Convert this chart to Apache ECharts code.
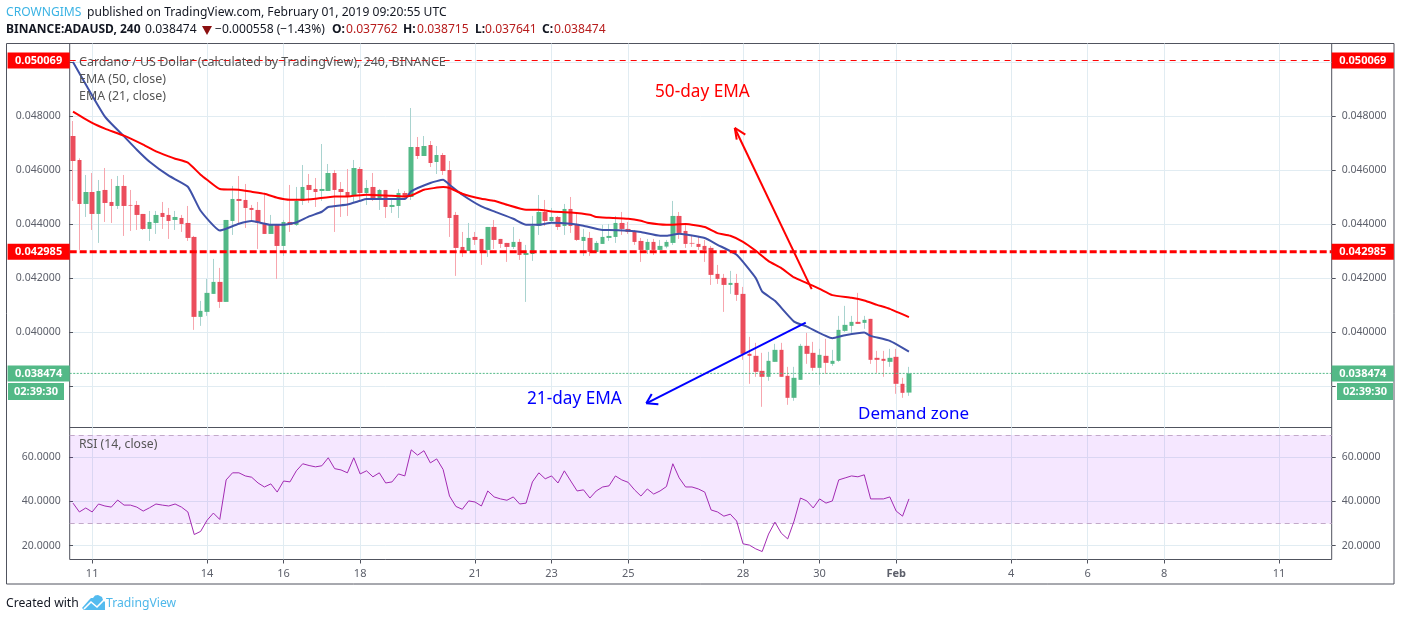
<!DOCTYPE html>
<html lang="en">
<head>
<meta charset="UTF-8">
<title>BINANCE:ADAUSD, 240</title>
<script src="https://cdn.jsdelivr.net/npm/echarts@6/dist/echarts.min.js"></script>
<style>
html, body { margin: 0; padding: 0; background: #fff; }
#main { width: 1401px; height: 621px; }
</style>
</head>
<body>
<div id="main"></div>
<script type="text/javascript">
// candles, 4h bars, oldest first (bar 0 = Jan 10 12:00)
const opens = [0.047272,0.046383,0.044753,0.045197,0.044383,0.045272,0.044827,0.044679,0.045420,0.044716,0.044716,0.044383,0.043827,0.044049,0.044420,0.044346,0.044160,0.044234,0.044049,0.043531,0.040568,0.040753,0.041420,0.041864,0.041123,0.044123,0.044938,0.044901,0.044605,0.044531,0.044049,0.043642,0.043975,0.043197,0.044086,0.043975,0.044864,0.045457,0.045309,0.045235,0.045235,0.045901,0.045309,0.045197,0.045049,0.046049,0.045160,0.045383,0.044975,0.045272,0.044642,0.044679,0.045160,0.045012,0.046864,0.046531,0.046938,0.046309,0.046568,0.046012,0.044346,0.043160,0.043012,0.043531,0.043457,0.043049,0.043901,0.043457,0.043309,0.043160,0.043346,0.042864,0.042901,0.043938,0.044457,0.044123,0.044271,0.043938,0.044568,0.044012,0.043383,0.043494,0.042975,0.043272,0.043494,0.043531,0.044049,0.043827,0.043716,0.043383,0.043049,0.043346,0.043050,0.043173,0.043309,0.044309,0.043753,0.043309,0.043272,0.043198,0.043124,0.042161,0.042013,0.041753,0.041827,0.041420,0.039198,0.039124,0.038568,0.038346,0.038901,0.039346,0.038383,0.037568,0.038235,0.039494,0.039235,0.038679,0.039124,0.038827,0.038939,0.040050,0.040235,0.040383,0.040346,0.040494,0.039050,0.039013,0.038901,0.039087,0.038087,0.037762];
const closes = [0.046346,0.044753,0.045197,0.044383,0.045235,0.044790,0.044679,0.045420,0.044679,0.044691,0.044346,0.043827,0.044086,0.044346,0.044271,0.044123,0.044271,0.044012,0.043494,0.040568,0.040790,0.041457,0.041864,0.041123,0.044160,0.044938,0.044864,0.044605,0.044531,0.044049,0.043642,0.043975,0.043197,0.044086,0.043975,0.044864,0.045383,0.045272,0.045197,0.045309,0.045901,0.045272,0.045197,0.045049,0.046086,0.045160,0.045346,0.044975,0.045272,0.044642,0.044716,0.045160,0.045012,0.046864,0.046531,0.046901,0.046272,0.046568,0.045975,0.044234,0.043123,0.043012,0.043494,0.043420,0.043012,0.043901,0.043420,0.043272,0.043160,0.043346,0.042864,0.042938,0.043938,0.044457,0.044123,0.044271,0.043901,0.044568,0.043938,0.043420,0.043531,0.042975,0.043309,0.043531,0.043568,0.044049,0.043827,0.043716,0.043346,0.043049,0.043346,0.043050,0.043198,0.043346,0.044309,0.043679,0.043272,0.043284,0.043161,0.043050,0.042124,0.041976,0.041753,0.041827,0.041383,0.039198,0.039124,0.038531,0.038346,0.038939,0.039346,0.038346,0.037568,0.038309,0.039494,0.039198,0.038679,0.039161,0.038864,0.038939,0.040087,0.040272,0.040383,0.040309,0.040457,0.038976,0.038976,0.038939,0.039050,0.038087,0.037753,0.038474];
const lows = [0.044864,0.043049,0.044271,0.043790,0.043309,0.044086,0.044049,0.044568,0.043568,0.043753,0.043790,0.043790,0.043383,0.043642,0.043827,0.043457,0.043790,0.043716,0.043383,0.040086,0.040235,0.040605,0.041420,0.040901,0.041123,0.043605,0.044012,0.043864,0.044086,0.043086,0.043642,0.043642,0.041975,0.042827,0.043716,0.043938,0.044716,0.044790,0.044642,0.044864,0.045235,0.043716,0.044271,0.044309,0.044827,0.044901,0.044716,0.044864,0.044531,0.044234,0.044420,0.044234,0.044901,0.044901,0.046420,0.046531,0.046123,0.045864,0.045827,0.043531,0.042086,0.042790,0.043012,0.043235,0.042494,0.042790,0.043086,0.043123,0.042605,0.043086,0.042679,0.041123,0.042642,0.043605,0.043938,0.044086,0.043790,0.043605,0.043679,0.043383,0.042827,0.042827,0.042975,0.043272,0.043383,0.043309,0.043605,0.043642,0.043235,0.042605,0.042901,0.042864,0.043050,0.043111,0.043235,0.043457,0.043124,0.043161,0.043050,0.042605,0.041753,0.041790,0.040753,0.041420,0.041161,0.038976,0.038087,0.038346,0.037235,0.038198,0.038901,0.038346,0.037309,0.037457,0.038235,0.038827,0.038568,0.038050,0.038457,0.038753,0.038901,0.040013,0.039939,0.040309,0.040124,0.038827,0.038494,0.038346,0.038716,0.037716,0.037568,0.037641];
const highs = [0.047827,0.046444,0.045827,0.045901,0.045642,0.046086,0.045679,0.045790,0.045827,0.045272,0.044864,0.044383,0.044494,0.044494,0.044827,0.044605,0.044494,0.044346,0.044679,0.043568,0.041160,0.041975,0.042716,0.042383,0.044160,0.045420,0.045790,0.045494,0.044716,0.044827,0.045086,0.044346,0.044012,0.044160,0.045457,0.045383,0.046198,0.045864,0.045716,0.046975,0.046235,0.046012,0.045568,0.046049,0.046383,0.046123,0.045642,0.045901,0.045309,0.045272,0.044901,0.045309,0.045235,0.048309,0.047235,0.047272,0.047086,0.046901,0.046642,0.046346,0.044457,0.043716,0.044049,0.043716,0.043457,0.043901,0.044160,0.043457,0.043309,0.043901,0.043457,0.043235,0.044309,0.045086,0.044901,0.044605,0.044309,0.044753,0.045012,0.044457,0.043827,0.043716,0.043383,0.043975,0.044012,0.044309,0.044457,0.044086,0.043790,0.043494,0.043457,0.043457,0.043420,0.043420,0.044865,0.044457,0.043976,0.043605,0.043568,0.043420,0.043198,0.042494,0.042161,0.042272,0.042161,0.041679,0.039827,0.039605,0.039235,0.039272,0.039568,0.039605,0.038716,0.038716,0.039568,0.039976,0.039642,0.039383,0.039753,0.039346,0.040605,0.040976,0.040605,0.041457,0.040605,0.040494,0.039309,0.039309,0.039383,0.039383,0.038309,0.038715];

// EMA lines, read at these bars
const ema50Bars = [0,3,5,8,11,13,15,16,18,20,21,23,26,28,30,32,34,36,38,41,43,46,49,52,53,55,58,59,61,64,66,68,71,73,75,78,81,82,84,87,89,90,93,96,99,101,103,105,107,109,111,113,115,117,119,122,124,126,128,131];
const ema50 = [0.048174,0.047755,0.047544,0.047284,0.046950,0.046700,0.046516,0.046431,0.046282,0.045837,0.045652,0.045307,0.045281,0.045206,0.045132,0.044984,0.044910,0.044910,0.044947,0.045032,0.045032,0.045095,0.045069,0.045032,0.045069,0.045280,0.045380,0.045344,0.045132,0.044947,0.044873,0.044724,0.044538,0.044538,0.044476,0.044438,0.044352,0.044267,0.044242,0.044205,0.044130,0.044056,0.043982,0.044008,0.043896,0.043674,0.043574,0.043351,0.043018,0.042637,0.042376,0.042028,0.041820,0.041608,0.041374,0.041274,0.041174,0.041014,0.040866,0.040558];
const ema21Bars = [0,5,8,10,12,15,18,20,23,24,26,28,31,33,35,37,39,40,43,45,46,52,53,56,58,59,61,64,66,69,71,73,75,78,80,83,84,87,89,92,93,95,99,101,104,107,108,110,113,115,119,121,124,125,128,131];
const ema21 = [0.050018,0.047990,0.047258,0.046765,0.046319,0.045800,0.045392,0.044500,0.043770,0.043834,0.044019,0.044119,0.043982,0.043982,0.044067,0.044290,0.044464,0.044639,0.044735,0.044872,0.044936,0.044936,0.045218,0.045529,0.045652,0.045466,0.045095,0.044661,0.044476,0.044205,0.043982,0.043982,0.044056,0.044019,0.043945,0.043786,0.043786,0.043760,0.043711,0.043574,0.043574,0.043648,0.043489,0.043240,0.042869,0.042005,0.041508,0.041162,0.040393,0.040209,0.039779,0.039890,0.039986,0.039864,0.039678,0.039281];

const rsi = [39.2,35.2,37.0,35.2,38.8,37.9,37.4,40.6,38.3,38.3,37.4,35.6,37.1,38.8,38.3,37.9,38.8,37.4,35.2,25.0,26.4,31.4,34.7,31.8,49.7,52.9,52.9,51.5,50.9,48.3,46.5,47.9,44.2,49.2,48.8,53.8,57.0,56.2,55.6,56.1,59.7,54.8,54.2,52.9,59.7,52.4,53.8,51.1,52.9,48.3,48.8,52.4,51.5,63.3,60.9,62.9,57.4,59.2,54.4,42.4,37.7,36.4,40.2,39.7,37.9,44.7,42.0,41.1,40.5,42.0,38.8,39.2,48.8,52.9,50.2,51.5,48.3,53.8,49.2,44.7,45.2,41.5,44.7,46.5,47.0,51.5,49.7,48.6,45.2,42.4,45.6,43.3,44.7,46.7,57.0,50.6,46.5,46.5,45.6,44.2,36.1,35.2,33.3,34.2,31.1,20.8,20.2,18.5,17.3,25.2,30.6,25.6,23.0,31.1,41.5,40.2,37.0,41.1,39.2,40.2,49.7,50.6,51.5,51.1,52.0,41.1,41.1,41.1,42.0,35.6,33.3,41.1];

// axes
const dayBars = [3,21,33,45,63,75,87,105,117,129,147,159,171,189];
const dayLabels = ['11','14','16','18','21','23','25','28','30','Feb','4','6','8','11'];
const priceTicks = [0.038,0.040,0.042,0.044,0.046,0.048,0.050];
const priceLabels = [0.040,0.042,0.044,0.046,0.048];
const rsiTicks = [20,40,60];

// horizontal levels
const resistanceTop = 0.050069;
const resistance = 0.042985;
const lastPrice = 0.038474;
const rsiBand = [30,70];

// drawn arrows, [bar, price]
const redArrow = [[115.76,0.041596],[103.70,0.047570]];
const redHead = [[105.36,0.047321],[103.70,0.047570],[104.01,0.047135]];
const blueArrow = [[114.83,0.040356],[89.84,0.037366]];
const blueHead = [[90.69,0.037711],[89.84,0.037366],[91.73,0.037328]];

const FONT = '"Noto Sans", sans-serif';
const UP = '#53b987', DOWN = '#eb4d5c';
const GRID = '#e1ecf2', FRAME = '#50535e', LABEL = '#5d606b';
const X_MIN = -0.517, X_MAX = 197.25;
const PRICE_MIN = 0.036468, PRICE_MAX = 0.0507;

const bars = opens.map(function (o, i) { return i; });
const wicks = bars.map(function (i) { return [i, opens[i], closes[i], lows[i], highs[i]]; });
const bodies = bars.map(function (i) {
    return [i, opens[i], closes[i], Math.min(opens[i], closes[i]), Math.max(opens[i], closes[i])];
});
function zip(a, b) { return a.map(function (v, i) { return [v, b[i]]; }); }
function polySegments(pts, color, width) {
    const out = [];
    for (let i = 0; i < pts.length - 1; i++) {
        out.push([
            { coord: pts[i], lineStyle: { color: color, width: width, type: 'solid' } },
            { coord: pts[i + 1] }
        ]);
    }
    return out;
}
// the price tags sit on both ends of a level, the line itself is its own series
function tagLine(value, color) {
    const label = {
        show: true, formatter: value.toFixed(6), color: '#fff', backgroundColor: color,
        fontFamily: FONT, fontSize: 11, fontWeight: 'bold', padding: [3, 7.5, 2, 7.5], distance: 0
    };
    const style = { color: color, width: 0 };
    return [
        { yAxis: value, lineStyle: style, label: Object.assign({ position: 'start' }, label) },
        { yAxis: value, lineStyle: style, label: Object.assign({ position: 'end' }, label) }
    ];
}
function levelSeries(value, color, width, dash) {
    return {
        type: 'line', xAxisIndex: 0, yAxisIndex: 0, showSymbol: false, silent: true, z: 6,
        data: [[X_MIN, value], [X_MAX, value]],
        lineStyle: { color: color, width: width, type: dash }
    };
}
function xAxisFor(gridIndex, showLabels) {
    return {
        type: 'value', gridIndex: gridIndex, min: X_MIN, max: X_MAX, position: 'bottom',
        axisLine: { show: false },
        axisTick: { show: showLabels, customValues: dayBars, length: 4, lineStyle: { color: FRAME } },
        splitLine: { show: true, lineStyle: { color: GRID } },
        axisLabel: {
            show: showLabels, customValues: dayBars, color: LABEL, fontFamily: FONT, fontSize: 11, margin: 9,
            formatter: function (v) {
                const s = dayLabels[dayBars.indexOf(v)];
                return s === 'Feb' ? '{b|Feb}' : s;
            },
            rich: { b: { fontWeight: 'bold', color: LABEL, fontFamily: FONT, fontSize: 11 } }
        }
    };
}
function yAxisFor(gridIndex, position, min, max, ticks, labels, digits) {
    return {
        type: 'value', gridIndex: gridIndex, position: position, min: min, max: max, scale: true,
        axisLine: { show: false },
        axisTick: { show: true, customValues: ticks, length: 4, lineStyle: { color: FRAME } },
        splitLine: { show: position === 'left', lineStyle: { color: GRID } },
        axisLabel: {
            customValues: labels, color: LABEL, fontFamily: FONT, fontSize: 10.5, margin: position === 'left' ? 9 : 10,
            formatter: function (v) { return v.toFixed(digits); }
        }
    };
}
function text(x, y, s, style) {
    return {
        type: 'text', x: x, y: y + 1, z: 50,
        style: Object.assign({ text: s, fontFamily: FONT, fontSize: 12.1, fill: '#131722', textVerticalAlign: 'middle' }, style)
    };
}
function tagBox(x, y, w, h, s) {
    return {
        type: 'group', z: 60, children: [
            { type: 'rect', shape: { x: x, y: y, width: w, height: h }, style: { fill: UP }, z: 60 },
            { type: 'text', x: x + w / 2, y: y + h / 2 + 0.5, z: 61, style: { text: s, fill: '#fff', fontFamily: FONT, fontSize: 11, fontWeight: 'bold', textAlign: 'center', textVerticalAlign: 'middle' } }
        ]
    };
}

const chart = echarts.init(document.getElementById('main'), null, { renderer: 'canvas' });
chart.setOption({
    animation: false,
    backgroundColor: '#fff',
    grid: [
        { left: 69.7, top: 43.5, width: 1262, height: 384, show: true, borderColor: FRAME, borderWidth: 1, containLabel: false },
        { left: 69.7, top: 427.5, width: 1262, height: 132, show: true, borderColor: FRAME, borderWidth: 1, containLabel: false }
    ],
    xAxis: [xAxisFor(0, false), xAxisFor(1, true)],
    yAxis: [
        yAxisFor(0, 'left', PRICE_MIN, PRICE_MAX, priceTicks, priceLabels, 6),
        yAxisFor(0, 'right', PRICE_MIN, PRICE_MAX, priceTicks, priceLabels, 6),
        yAxisFor(1, 'left', 13.7, 73.4, rsiTicks, rsiTicks, 4),
        yAxisFor(1, 'right', 13.7, 73.4, rsiTicks, rsiTicks, 4)
    ],
    series: [
        {
            type: 'candlestick', name: 'wicks', xAxisIndex: 0, yAxisIndex: 0, barWidth: 0, data: wicks,
            encode: { x: 0, y: [1, 2, 3, 4] },
            itemStyle: { color: '#a9d3cf', color0: '#f7a6ae', borderColor: '#a9d3cf', borderColor0: '#f7a6ae', borderWidth: 1 },
            z: 2
        },
        {
            type: 'candlestick', name: 'bodies', xAxisIndex: 0, yAxisIndex: 0, barWidth: 5, data: bodies,
            encode: { x: 0, y: [1, 2, 3, 4] },
            itemStyle: { color: UP, color0: DOWN, borderColor: UP, borderColor0: DOWN, borderWidth: 0 },
            z: 3
        },
        {
            type: 'line', name: 'EMA 21', xAxisIndex: 0, yAxisIndex: 0, data: zip(ema21Bars, ema21), showSymbol: false,
            smooth: 0.15, lineStyle: { color: '#3f51a8', width: 2 }, z: 4, silent: true
        },
        {
            type: 'line', name: 'EMA 50', xAxisIndex: 0, yAxisIndex: 0, data: zip(ema50Bars, ema50), showSymbol: false,
            smooth: 0.15, lineStyle: { color: '#ff0000', width: 2 }, z: 5, silent: true,
            markLine: {
                silent: true, symbol: 'none', animation: false, precision: 6, z: 7,
                data: [].concat(
                    tagLine(resistanceTop, '#ff0000'),
                    tagLine(resistance, '#ff0000'),
                    tagLine(lastPrice, UP),
                    polySegments(redArrow, '#ff0000', 2),
                    polySegments(redHead, '#ff0000', 2),
                    polySegments(blueArrow, '#0000ff', 2),
                    polySegments(blueHead, '#0000ff', 2)
                )
            }
        },
        levelSeries(resistanceTop, '#ff0000', 1, [6, 5]),
        levelSeries(resistance, '#ff0000', 3, [7, 3]),
        levelSeries(lastPrice, UP, 1, [2, 1.5]),
        {
            type: 'line', name: 'RSI', xAxisIndex: 1, yAxisIndex: 2, data: zip(bars, rsi), showSymbol: false,
            lineStyle: { color: '#a32bb3', width: 1 }, z: 5, silent: true,
            markArea: {
                silent: true, z: 1,
                itemStyle: { color: 'rgba(153,21,255,0.1)' },
                data: [[{ yAxis: rsiBand[0] }, { yAxis: rsiBand[1] }]]
            },
            markLine: {
                silent: true, symbol: 'none', z: 2,
                label: { show: false },
                lineStyle: { color: '#c2a9c9', type: [5, 4], width: 1 },
                data: [{ yAxis: rsiBand[0] }, { yAxis: rsiBand[1] }]
            }
        }
    ],
    graphic: [
        { type: 'rect', z: 0, shape: { x: 6.5, y: 43.5, width: 1387.5, height: 540.5 }, style: { fill: 'none', stroke: FRAME, lineWidth: 1 } },

        text(6, 12, 'CROWNGIMS', { fill: '#3bb3e4' }),
        text(87, 12, 'published on TradingView.com, February 01, 2019 09:20:55 UTC'),
        text(6, 29, 'BINANCE:ADAUSD, 240', { fontWeight: 'bold', fontSize: 12 }),
        text(145, 29, '0.038474', {}),
        { type: 'polygon', z: 50, shape: { points: [[202, 26], [212, 26], [207, 35]] }, style: { fill: '#8b0f0f' } },
        text(215, 29, '\u22120.000558 (\u22121.43%)', {}),
        text(332, 29, 'O:', { fontWeight: 'bold' }),
        text(346, 29, '0.037762', { fill: '#b71c1c' }),
        text(403, 29, 'H:', { fontWeight: 'bold' }),
        text(417, 29, '0.038715', { fill: '#b71c1c' }),
        text(475, 29, 'L:', { fontWeight: 'bold' }),
        text(485, 29, '0.037641', { fill: '#b71c1c' }),
        text(542, 29, 'C:', { fontWeight: 'bold' }),
        text(554, 29, '0.038474', { fill: '#b71c1c' }),

        text(79, 61, 'Cardano / US Dollar (calculated by TradingView), 240, BINANCE', { fill: '#555', fontSize: 12.5 }),
        text(79, 78, 'EMA (50, close)', { fill: '#555', fontSize: 12.4 }),
        text(79, 95, 'EMA (21, close)', { fill: '#555', fontSize: 12.4 }),
        text(79, 444, 'RSI (14, close)', { fill: '#555', fontSize: 12.2 }),

        text(655, 91, '50-day EMA', { fill: '#ff0000', fontSize: 17.2 }),
        text(527, 398, '21-day EMA', { fill: '#0000ff', fontSize: 17.2 }),
        text(858, 413, 'Demand zone', { fill: '#0000ff', fontSize: 17 }),

        tagBox(8, 383, 56, 17, '02:39:30'),
        tagBox(1337, 383, 56, 17, '02:39:30'),

        text(6, 603, 'Created with', { fontSize: 12.2 }),
        { type: 'polygon', z: 50, shape: { points: [[82, 608], [89, 600], [91, 598], [93, 598], [95, 595.5], [98, 595], [100, 596], [102, 597], [103, 600], [105, 602], [105, 610], [84, 610]] }, style: { fill: '#54bbef' } },
        { type: 'polyline', z: 51, shape: { points: [[84, 609], [91, 602], [97, 607], [104, 600]] }, style: { stroke: '#fff', lineWidth: 1.6, fill: 'none' } },
        text(106, 603, 'TradingView', { fill: '#4fb8ea', fontSize: 12.2 })
    ]
});
</script>
</body>
</html>
